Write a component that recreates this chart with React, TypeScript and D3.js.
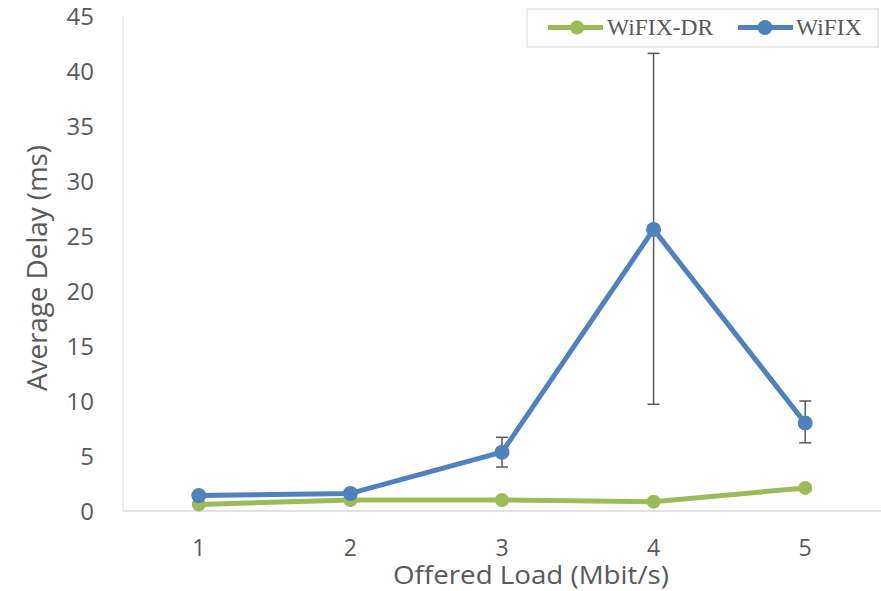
import React from "react";
import * as d3 from "d3";

const categories = [1, 2, 3, 4, 5];
const wifixDR = [0.6, 1.0, 1.0, 0.85, 2.1];
const wifix = [1.4, 1.6, 5.35, 25.6, 8.0];
const wifixErrLow = [null, null, 4.0, 9.7, 6.2];
const wifixErrHigh = [null, null, 6.7, 41.6, 10.0];
const yTicks = [0, 5, 10, 15, 20, 25, 30, 35, 40, 45];
const seriesNames = ["WiFIX-DR", "WiFIX"];
const xTitle = "Offered Load (Mbit/s)";
const yTitle = "Average Delay (ms)";

const W = 881, H = 591;
const left = 123, right = 881, top = 16, bottom = 511;
const GREEN = "#9bbb59";
const BLUE = "#4f81bd";
const GRAY = "#595959";
const SANS = "'Open Sans', Lato, sans-serif";
const SERIF = "'Liberation Serif', 'Times New Roman', serif";

export default function App() {
  const x = d3.scaleBand<number>().domain(categories).range([left, right]);
  const cx = (c: number) => (x(c) as number) + x.bandwidth() / 2;
  const y = d3.scaleLinear().domain([0, 45]).range([bottom, top]);
  const line = d3.line<number>().x((_, i) => cx(categories[i])).y((v) => y(v));

  return (
    <svg width={W} height={H} style={{ position: "absolute", left: 0, top: 0, background: "#fff" }}>
      <line x1={left} x2={left} y1={top} y2={bottom} stroke="#e6e2da" strokeWidth={1} />
      <line x1={left} x2={right} y1={bottom} y2={bottom} stroke="#d9d9d9" strokeWidth={1.5} />
      {yTicks.map((t) => (
        <text key={t} x={94} y={y(t)} dy="0.36em" textAnchor="end" fontFamily={SANS} fontSize={24} fill={GRAY}>
          {t}
        </text>
      ))}
      {categories.map((c) => (
        <text key={c} x={cx(c)} y={556} textAnchor="middle" fontFamily={SANS} fontSize={23} fill={GRAY}>
          {c}
        </text>
      ))}
      <text x={393} y={584} textLength={276} lengthAdjust="spacingAndGlyphs" fontFamily={SANS} fontSize={26} fill={GRAY}>
        {xTitle}
      </text>
      <text transform={`translate(47,268) rotate(-90)`} textAnchor="middle" textLength={246} lengthAdjust="spacingAndGlyphs" fontFamily={SANS} fontSize={27} fill={GRAY}>
        {yTitle}
      </text>

      <path d={line(wifixDR) || ""} fill="none" stroke={GREEN} strokeWidth={5} strokeLinejoin="round" />
      <path d={line(wifix) || ""} fill="none" stroke={BLUE} strokeWidth={5} strokeLinejoin="round" />

      {categories.map((c, i) =>
        wifixErrLow[i] != null ? (
          <g key={"e" + c} stroke={GRAY} strokeWidth={1.5}>
            <line x1={cx(c)} x2={cx(c)} y1={y(wifixErrLow[i] as number)} y2={y(wifixErrHigh[i] as number)} />
            <line x1={cx(c) - 6} x2={cx(c) + 6} y1={y(wifixErrLow[i] as number)} y2={y(wifixErrLow[i] as number)} />
            <line x1={cx(c) - 6} x2={cx(c) + 6} y1={y(wifixErrHigh[i] as number)} y2={y(wifixErrHigh[i] as number)} />
          </g>
        ) : null
      )}

      {wifixDR.map((v, i) => (
        <circle key={"g" + i} cx={cx(categories[i])} cy={y(v)} r={7} fill={GREEN} />
      ))}
      {wifix.map((v, i) => (
        <circle key={"b" + i} cx={cx(categories[i])} cy={y(v)} r={7.5} fill={BLUE} />
      ))}

      <g>
        <rect x={527} y={9} width={351} height={38} fill="#fff" stroke="#d9d9d9" strokeWidth={1} />
        <line x1={548} x2={603} y1={27.5} y2={27.5} stroke={GREEN} strokeWidth={5} />
        <circle cx={577} cy={27.5} r={7} fill={GREEN} />
        <text x={607} y={35} fontFamily={SERIF} fontSize={23.5} fill={GRAY}>
          {seriesNames[0]}
        </text>
        <line x1={738} x2={793} y1={27.5} y2={27.5} stroke={BLUE} strokeWidth={5} />
        <circle cx={765} cy={27.5} r={7.5} fill={BLUE} />
        <text x={796} y={35} fontFamily={SERIF} fontSize={23.5} fill={GRAY}>
          {seriesNames[1]}
        </text>
      </g>
    </svg>
  );
}
